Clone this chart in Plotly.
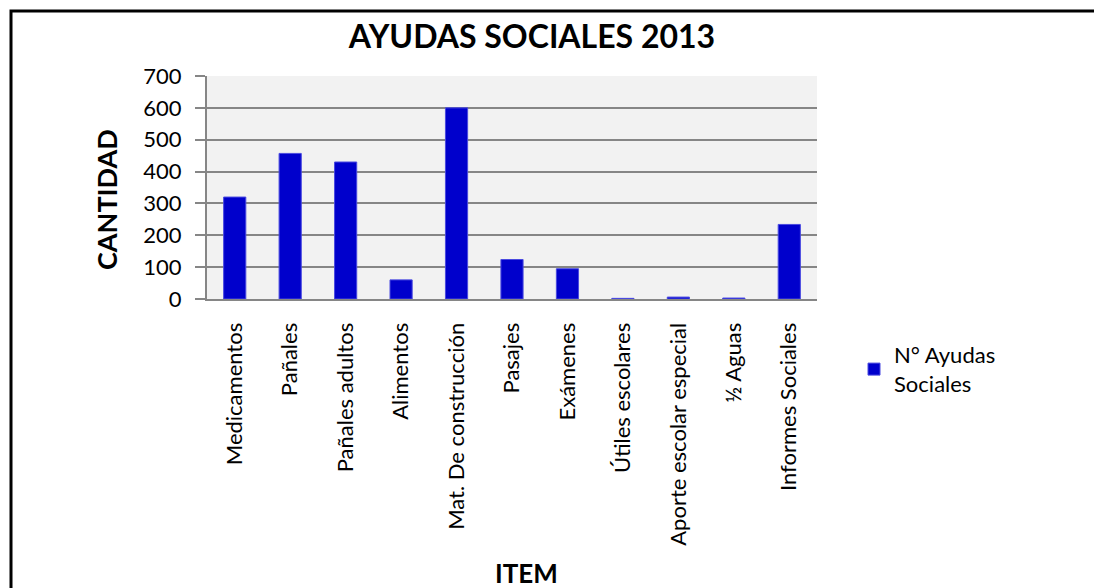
import plotly.graph_objects as go

categories = ["Medicamentos", "Pañales", "Pañales adultos", "Alimentos",
              "Mat. De construcción", "Pasajes", "Exámenes", "Útiles escolares",
              "Aporte escolar especial", "½ Aguas", "Informes Sociales"]
values = [320, 457, 430, 60, 600, 124, 95, 2, 6, 3, 234]
y_ticks = [0, 100, 200, 300, 400, 500, 600, 700]

W, H = 1102, 588
OFF = 8  # page body margin offset
# reference-pixel plot area
L, R, T, B = 207 - OFF, 817 - OFF, 76 - OFF, 299 - OFF

def px_x(x):
    return (x - OFF - L) / (R - L)

def px_y(y):
    return (B - (y - OFF)) / (B - T)

FONT = "Lato, Calibri, Carlito, sans-serif"

fig = go.Figure()
fig.add_trace(go.Bar(
    x=categories, y=values, name="N° Ayudas<br>Sociales",
    marker=dict(color="#0000CC", line=dict(color="#4A4AE0", width=1)),
    width=0.4,
))

fig.update_layout(
    width=W, height=H,
    margin=dict(l=L, r=W - R, t=T, b=H - B, autoexpand=False),
    paper_bgcolor="white",
    plot_bgcolor="#F2F2F2",
    font=dict(family=FONT, size=22, color="black"),
    title=dict(text="<b>AYUDAS SOCIALES 2013</b>", x=px_x(532), xanchor="center",
               y=1 - (37 - OFF) / H, yanchor="middle", xref="paper",
               font=dict(size=32, family=FONT, color="black")),
    showlegend=True,
    legend=dict(x=px_x(854), y=px_y(334), xanchor="left", yanchor="top",
                font=dict(size=22, family=FONT), bgcolor="rgba(0,0,0,0)",
                itemwidth=30),
    xaxis=dict(
        tickangle=-90, tickfont=dict(size=22, family=FONT),
        showgrid=False, showline=True, linecolor="#868686", linewidth=2,
        ticks="", title=None, ticklabelstandoff=13,
    ),
    yaxis=dict(
        range=[0, 700], tickvals=y_ticks, ticktext=[str(v) for v in y_ticks],
        showgrid=True, gridcolor="#868686", gridwidth=2,
        showline=True, linecolor="#868686", linewidth=2,
        ticks="outside", ticklen=10, tickcolor="#868686", tickwidth=2,
        tickfont=dict(size=22, family=FONT), ticklabelstandoff=9,
        zeroline=False, title=None,
    ),
)

fig.add_annotation(text="<b>CANTIDAD</b>", xref="paper", yref="paper",
                   x=px_x(106), y=px_y(200), textangle=-90, showarrow=False,
                   font=dict(size=27, family=FONT, color="black"),
                   xanchor="center", yanchor="middle")
fig.add_annotation(text="<b>ITEM</b>", xref="paper", yref="paper",
                   x=px_x(526), y=px_y(573), showarrow=False,
                   font=dict(size=26, family=FONT, color="black"),
                   xanchor="center", yanchor="middle")

fig.add_shape(type="rect", xref="paper", yref="paper",
              x0=px_x(11), x1=px_x(1130), y0=px_y(640), y1=px_y(11),
              line=dict(color="black", width=3), fillcolor="rgba(0,0,0,0)",
              layer="above")

fig.write_html("out.html")
